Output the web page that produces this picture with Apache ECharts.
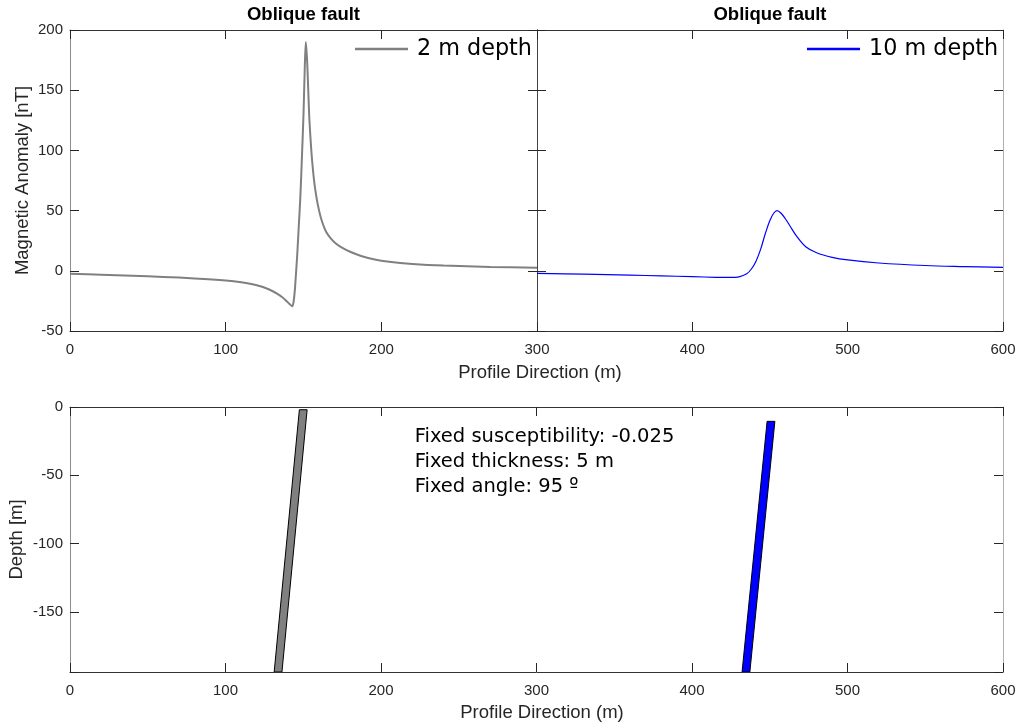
<!DOCTYPE html>
<html>
<head>
<meta charset="utf-8">
<script src="https://cdn.jsdelivr.net/npm/echarts@6/dist/echarts.min.js"></script>
<style>
html,body{margin:0;padding:0;background:#fff;}
#chart{width:1021px;height:727px;}
</style>
</head>
<body>
<div id="chart"></div>
<script>
// ---- data ----
const x2m = [0,20,40,60,80,100,110,120,128,133,136.4,139,141,142.8,143.8,144.5,145.3,146,147,148,149,150,150.8,151.5,152.3,153,153.7,154.5,155.5,156.7,158.2,160,162,164.5,167.5,171,175,180,187,195,205,220,240,270,300];
const y2m = [-2.5,-3.2,-4.1,-5.1,-6.3,-8,-9.5,-12,-15.5,-19,-22,-25,-27.5,-29.5,-24,-15,0,14,38,62,95,130,168,190,175,152,128,110,92,76,62,50,40.5,32.5,27,22.5,19,15.8,12.3,9.6,7.5,5.7,4.3,3.2,2.5];

const x10m = [300,330,360,380,400,415,425,430,435,438,441,444,447,450,452.5,454.5,457,460,463,467,473,480,490,500,520,550,575,600];
const y10m = [-2.2,-2.8,-3.6,-4.2,-4.9,-5.4,-5.5,-5,-2.5,1.5,8,18,31,42,48,50,48,43,37,29,20,15,11.2,9,6.5,4.4,3.5,2.8];

// fault polygons (x, depth) vertices
const fault2m = [[147.5,-2],[152.5,-2],[136.3,-194],[131.3,-194]];
const fault10m = [[448.3,-10.5],[453.3,-10.5],[437.2,-194],[432.2,-194]];

const seriesNames = ['2 m depth','10 m depth'];
const titles = ['Oblique fault','Oblique fault'];
const notes = ['Fixed susceptibility: -0.025','Fixed thickness: 5 m','Fixed angle: 95 º'];
const xLabel = 'Profile Direction (m)';
const yLabelTop = 'Magnetic Anomaly [nT]';
const yLabelBottom = 'Depth [m]';

// ---- layout / style ----
const AX = '#262626';
const FONT = 'Liberation Sans';
const TXT = 'DejaVu Sans';
const zip = (a,b) => a.map((v,i)=>[v,b[i]]);

function xAx(grid, pos, min, max, opts) {
  opts = opts || {};
  return Object.assign({
    type:'value', gridIndex:grid, position:pos, min:min, max:max, interval:100,
    axisLine:{show:true, onZero:false, lineStyle:{color: opts.lineColor || '#333', width:1}},
    axisTick:{show:true, inside:true, length:9, lineStyle:{color:AX}},
    axisLabel:{show: pos==='bottom', color:AX, fontSize:15, fontFamily:FONT, margin:11},
    splitLine:{show:false}
  }, opts.extra || {});
}
function yAx(grid, pos, min, max, opts) {
  opts = opts || {};
  return Object.assign({
    type:'value', gridIndex:grid, position:pos, min:min, max:max,
    axisLine:{show:true, onZero:false, lineStyle:{color: opts.lineColor || '#8c8c8c', width:1}},
    axisTick:{show:true, inside:true, length:9, lineStyle:{color:AX}},
    axisLabel:{show: !!opts.labels, color:AX, fontSize:15, fontFamily:FONT, margin:7},
    splitLine:{show:false}
  }, opts.extra || {});
}

function polyRender(verts, fill) {
  return function(params, api) {
    if (params.dataIndex !== 0) return;
    const pts = verts.map(v => api.coord(v));
    return {type:'polygon', shape:{points:pts}, style:{fill:fill, stroke:'#000', lineWidth:1}};
  };
}

const chart = echarts.init(document.getElementById('chart'), null, {renderer:'canvas'});
const option = {
  animation:false,
  backgroundColor:'#fff',
  grid:[
    {left:70, top:30, width:467, height:301, containLabel:false, outerBoundsMode:'none'},
    {left:537, top:30, width:466, height:301, containLabel:false, outerBoundsMode:'none'},
    {left:70, top:407, width:933, height:265, containLabel:false, outerBoundsMode:'none'}
  ],
  xAxis:[
    xAx(0,'bottom',0,300,{extra:{axisLabel:{show:true,color:AX,fontSize:15,fontFamily:FONT,margin:11,showMaxLabel:false}}}),
    xAx(0,'top',0,300),
    xAx(1,'bottom',300,600),
    xAx(1,'top',300,600),
    xAx(2,'bottom',0,600,{extra:{name:xLabel,nameLocation:'middle',nameGap:31,nameMoveOverlap:false,
      nameTextStyle:{color:AX,fontSize:18.5,fontFamily:FONT,padding:[0,0,0,11]}}}),
    xAx(2,'top',0,600)
  ],
  yAxis:[
    yAx(0,'left',-50,200,{labels:true,extra:{interval:50,name:yLabelTop,nameLocation:'middle',nameGap:37.5,nameMoveOverlap:false,
      nameTextStyle:{color:AX,fontSize:18.5,fontFamily:FONT}}}),
    yAx(0,'right',-50,200,{lineColor:'#444',extra:{interval:50}}),
    yAx(1,'left',-50,200,{lineColor:'#444',extra:{interval:50}}),
    yAx(1,'right',-50,200,{lineColor:'#b0b0b0',extra:{interval:50}}),
    yAx(2,'left',-194,0,{labels:true,extra:{splitNumber:4,name:yLabelBottom,nameLocation:'middle',nameGap:43.5,nameMoveOverlap:false,
      nameTextStyle:{color:AX,fontSize:18.5,fontFamily:FONT},
      axisLabel:{show:true,color:AX,fontSize:15,fontFamily:FONT,margin:7,
        formatter:function(v){return (Math.round(v)%50===0)?String(v):'';}}}}),
    yAx(2,'right',-194,0,{lineColor:'#b0b0b0',extra:{splitNumber:4}})
  ],
  legend:[
    {data:[seriesNames[0]], left:355, top:36, selectedMode:false, icon:'rect', itemWidth:53, itemHeight:2.5,
      padding:0, textStyle:{fontFamily:TXT, fontSize:22.3, color:'#000', padding:[0,0,0,4], lineHeight:26}},
    {data:[seriesNames[1]], left:807, top:36, selectedMode:false, icon:'rect', itemWidth:53, itemHeight:2.5,
      padding:0, textStyle:{fontFamily:TXT, fontSize:22.3, color:'#000', padding:[0,0,0,4], lineHeight:26}}
  ],
  series:[
    {name:seriesNames[0], type:'line', xAxisIndex:0, yAxisIndex:0, data:zip(x2m,y2m),
      showSymbol:false, symbol:'none', smooth:0.3, color:'#808080',
      lineStyle:{color:'#808080', width:2}, clip:true},
    {name:seriesNames[1], type:'line', xAxisIndex:2, yAxisIndex:2, data:zip(x10m,y10m),
      showSymbol:false, symbol:'none', smooth:0.35, color:'#0000ff',
      lineStyle:{color:'#0000ff', width:1.2}, clip:true},
    {name:'fault 2 m', type:'custom', xAxisIndex:4, yAxisIndex:4, data:fault2m,
      renderItem:polyRender(fault2m,'#808080'), encode:{x:0,y:1}, clip:true},
    {name:'fault 10 m', type:'custom', xAxisIndex:4, yAxisIndex:4, data:fault10m,
      renderItem:polyRender(fault10m,'#0000ff'), encode:{x:0,y:1}, clip:true}
  ],
  graphic:[
    {type:'text', x:303.5, y:15, style:{text:titles[0], font:'bold 18.5px "Liberation Sans"', fill:'#000', textAlign:'center', textVerticalAlign:'middle'}},
    {type:'text', x:770, y:15, style:{text:titles[1], font:'bold 18.5px "Liberation Sans"', fill:'#000', textAlign:'center', textVerticalAlign:'middle'}},
    {type:'text', x:540, y:372.5, style:{text:xLabel, font:'18.5px "Liberation Sans"', fill:AX, textAlign:'center', textVerticalAlign:'middle'}},
    {type:'text', x:414.7, y:436.7, style:{text:notes[0], font:'19.5px "DejaVu Sans"', fill:'#000', textAlign:'left', textVerticalAlign:'middle'}},
    {type:'text', x:414.7, y:461.7, style:{text:notes[1], font:'19.5px "DejaVu Sans"', fill:'#000', textAlign:'left', textVerticalAlign:'middle'}},
    {type:'text', x:414.7, y:487.3, style:{text:notes[2], font:'19.5px "DejaVu Sans"', fill:'#000', textAlign:'left', textVerticalAlign:'middle'}}
  ]
};
chart.setOption(option);
</script>
</body>
</html>
